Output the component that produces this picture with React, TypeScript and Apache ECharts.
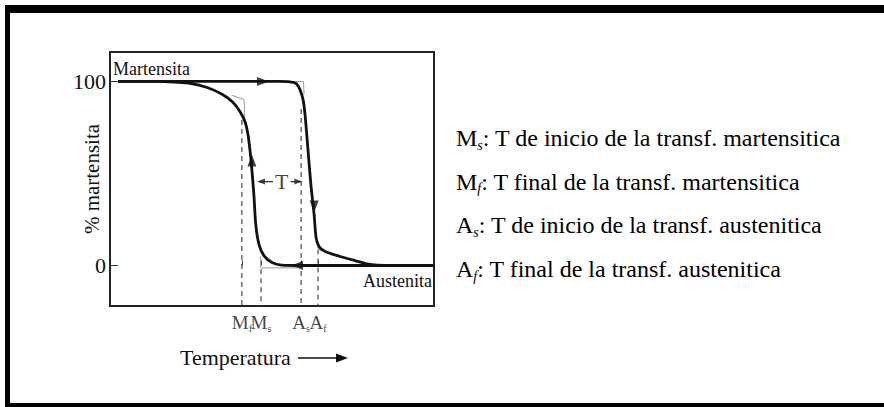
import React, { useEffect, useRef } from "react";
import * as echarts from "echarts";

// Transition temperatures (arbitrary temperature scale 0–100)
const transitionTemps = [40.7, 46.6, 59, 64.2];
const transitionMain = ["M", "M", "A", "A"];
const transitionSub = ["f", "s", "s", "f"];
const dashedTops = [79, -2, 85, 8.7];

// Cooling curve (austenite -> martensite), % martensite vs temperature
const coolingCurve: number[][] = [
  [2.5, 100], [15, 100], [20, 99.6], [24.7, 99], [30, 96.7], [34.6, 93], [38, 88.6],
  [40.1, 83.7], [41.7, 78], [42.6, 71], [43.5, 57.6], [44.4, 38.6], [45, 22],
  [46, 11.4], [47.5, 5.4], [50, 1.6], [53, 0.2], [60, 0], [80, 0], [100, 0],
];
// Heating curve (martensite -> austenite)
const heatingCurve: number[][] = [
  [2.5, 100], [20, 100], [40, 100], [52, 100], [55.5, 99.8], [57.4, 98.9], [58.6, 95.7],
  [59.6, 90], [60.2, 82], [61.1, 63], [62, 44], [63, 27.7], [63.6, 15.2], [64.5, 10.3],
  [66.4, 7.6], [71, 4.9], [75.6, 2.7], [80.2, 0.6], [85, 0], [92, 0], [100, 0],
];
// Direction arrows along the curves: [x, y, rotation]
const arrowMarks: number[][] = [
  [47.2, 100, -90],
  [63, 32, 180],
  [43.8, 57, 0],
  [57.7, 0, 90],
];
// Tangent construction lines
const constructionLines: number[][][] = [
  [[37.5, 92.5], [41.4, 90.2], [41.6, 79]],
  [[56.4, 100], [59.7, 100], [59.9, 93]],
  [[46.5, 5], [46.5, -1.3], [57.6, -1.3]],
  [[63.8, 10.5], [65.3, 7.2]],
];
const hysteresisY = 45.6;
const hysteresisArrowX = [46.0, 58.7];
const hysteresisLineEnds = [50.3, 55.7];
const legendRows = [
  ["M", "s", ": T de inicio de la transf. martensitica"],
  ["M", "f", ": T final de la transf. martensitica"],
  ["A", "s", ": T de inicio de la transf. austenitica"],
  ["A", "f", ": T final de la transf. austenitica"],
];

const FONT = "'Liberation Serif', 'Times New Roman', serif";
const INK = "#111";

export default function App() {
  const ref = useRef<HTMLDivElement>(null);
  useEffect(() => {
    if (!ref.current) return;
    const chart = echarts.init(ref.current, null, { renderer: "svg" });

    const labelNudge = [-6, -4, -3, 3];

    const dashedSeries = transitionTemps.map((t, i) => ({
      type: "line",
      data: [[t, dashedTops[i]], [t, -22]],
      symbol: "none",
      lineStyle: { color: "#555", width: 1.3, type: [5, 4] },
      z: 1,
    }));
    const constructionSeries = constructionLines.map((pts) => ({
      type: "line",
      data: pts,
      symbol: "none",
      lineStyle: { color: "#9a9a9a", width: 1 },
      z: 1,
    }));

    const rich: any = {
      m: { fontSize: 24, fontFamily: FONT, color: INK, lineHeight: 28 },
      s: { fontSize: 14, fontFamily: FONT, color: INK, fontStyle: "italic", verticalAlign: "bottom", lineHeight: 14 },
      t: { fontSize: 24, fontFamily: FONT, color: INK, lineHeight: 28 },
    };

    const legendGraphics = legendRows.map((r, i) => ({
      type: "text",
      x: 456,
      y: 138 + i * 43.7,
      style: {
        text: `{m|${r[0]}}{s|${r[1]}}{t|${r[2]}}`,
        rich,
        verticalAlign: "middle",
      },
    }));

    chart.setOption({
      animation: false,
      backgroundColor: "#fff",
      grid: {
        left: 110, top: 52, width: 324, height: 254,
        show: true, borderColor: "#222", borderWidth: 2,
      },
      xAxis: {
        type: "value", min: 0, max: 100,
        axisLine: { show: false },
        splitLine: { show: false },
        axisTick: { show: true, inside: true, length: 5, customValues: transitionTemps, lineStyle: { color: "#333" } },
        axisLabel: { show: false },
      },
      yAxis: {
        type: "value", min: -22, max: 116,
        name: "% martensita",
        nameLocation: "middle",
        nameGap: 8,
        nameMoveOverlap: false,
        nameTextStyle: { fontSize: 21, fontFamily: FONT, color: INK },
        axisLine: { show: false },
        splitLine: { show: false },
        axisTick: { show: true, inside: true, length: 8, customValues: [0, 100], lineStyle: { color: "#333" } },
        axisLabel: {
          customValues: [0, 100], margin: 4,
          fontSize: 22, fontFamily: FONT, color: INK,
        },
      },
      series: [
        ...dashedSeries,
        ...constructionSeries,
        {
          type: "line", data: coolingCurve, symbol: "none", smooth: 0.25,
          lineStyle: { color: "#111", width: 2.8 }, z: 3,
        },
        {
          type: "line", data: heatingCurve, symbol: "none", smooth: 0.25,
          lineStyle: { color: "#111", width: 2.8 }, z: 3,
        },
        {
          type: "scatter",
          data: arrowMarks.map((a) => ({ value: [a[0], a[1]], symbolRotate: a[2] })),
          symbol: "triangle", symbolSize: [9, 12],
          itemStyle: { color: "#111" }, z: 4,
        },
        {
          type: "line",
          data: [[hysteresisArrowX[0], hysteresisY], [hysteresisLineEnds[0], hysteresisY]],
          symbol: "none",
          lineStyle: { color: "#333", width: 1.2 }, z: 4,
        },
        {
          type: "line",
          data: [[hysteresisLineEnds[1], hysteresisY], [hysteresisArrowX[1], hysteresisY]],
          symbol: "none",
          lineStyle: { color: "#333", width: 1.2 }, z: 4,
        },
        {
          type: "scatter",
          data: [
            { value: [hysteresisArrowX[0] + 0.6, hysteresisY], symbolRotate: 90 },
            { value: [hysteresisArrowX[1] - 0.6, hysteresisY], symbolRotate: -90 },
          ],
          symbol: "triangle", symbolSize: [6, 8],
          itemStyle: { color: "#222" }, z: 4,
        },
        {
          type: "scatter",
          data: [[53, hysteresisY]],
          symbolSize: 0,
          label: { show: true, position: "inside", formatter: "T", fontSize: 22, fontFamily: FONT, color: INK },
          z: 4,
        },
        {
          type: "scatter",
          data: transitionTemps.map((t, i) => ({
            value: [t, -22],
            label: { offset: [labelNudge[i], 0] },
          })),
          symbolSize: 0,
          label: {
            show: true, position: "bottom", distance: 5,
            formatter: (p: any) => `{m|${transitionMain[p.dataIndex]}}{s|${transitionSub[p.dataIndex]}}`,
            rich: {
              m: { fontSize: 19, fontFamily: FONT, color: INK, lineHeight: 22 },
              s: { fontSize: 10, fontFamily: FONT, color: INK, verticalAlign: "bottom", lineHeight: 10 },
            },
          },
          labelLayout: { hideOverlap: false },
          z: 4,
        },
      ],
      graphic: [
        { type: "rect", shape: { x: 5, y: 5, width: 879, height: 8 }, style: { fill: "#000" } },
        { type: "rect", shape: { x: 5, y: 5, width: 5, height: 402 }, style: { fill: "#000" } },
        { type: "rect", shape: { x: 5, y: 403, width: 879, height: 4 }, style: { fill: "#000" } },
        {
          type: "text", left: 113, top: 60,
          style: { text: "Martensita", fontSize: 18, fontFamily: FONT, fill: INK },
        },
        {
          type: "text", left: 363, top: 272,
          style: { text: "Austenita", fontSize: 18, fontFamily: FONT, fill: INK },
        },
        {
          type: "text", left: 180, top: 346,
          style: { text: "Temperatura", fontSize: 22, fontFamily: FONT, fill: INK },
        },
        { type: "line", shape: { x1: 298, y1: 358, x2: 340, y2: 358 }, style: { stroke: "#111", lineWidth: 1.6 } },
        { type: "polygon", shape: { points: [[336, 353.5], [348, 358], [336, 362.5]] }, style: { fill: "#111" } },
        ...legendGraphics,
      ],
    });
    return () => chart.dispose();
  }, []);
  return (
    <div
      ref={ref}
      style={{ position: "fixed", left: 0, top: 0, width: 884, height: 407, background: "#fff" }}
    />
  );
}
